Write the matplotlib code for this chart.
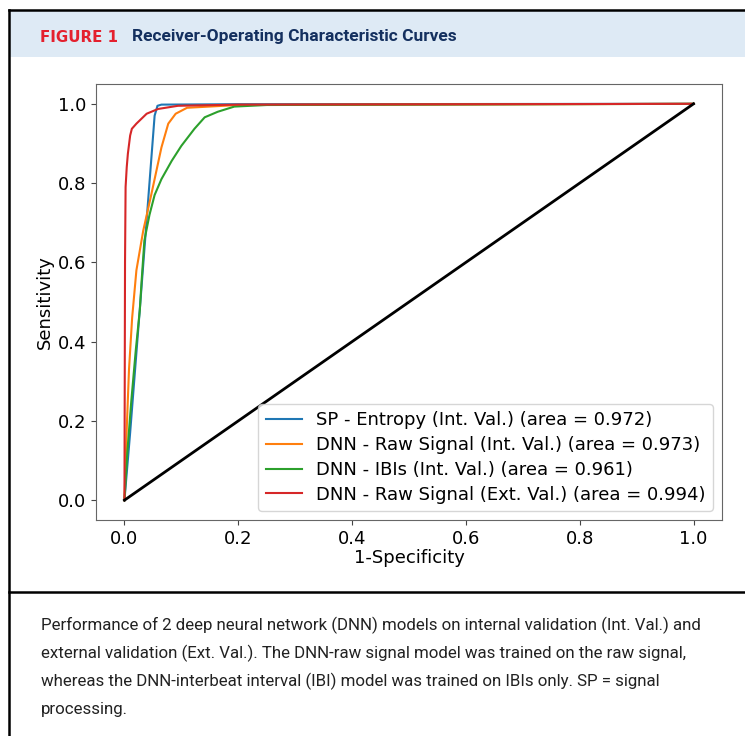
#!/usr/bin/env python3
"""ROC curves figure (journal panel style): header band, ROC plot, caption."""

import matplotlib
matplotlib.use('Agg')
import matplotlib.pyplot as plt
from matplotlib.patches import Rectangle
from matplotlib.lines import Line2D

# --- data ---
sp_fpr = [0.0, 0.010, 0.028, 0.045, 0.053, 0.058, 0.065, 0.2, 1.0]
sp_tpr = [0.0, 0.17, 0.50, 0.82, 0.97, 0.995, 0.998, 0.999, 1.0]

raw_int_fpr = [0.0, 0.004, 0.008, 0.0135, 0.021, 0.033, 0.047, 0.065, 0.077,
               0.090, 0.110, 0.20, 1.0]
raw_int_tpr = [0.0, 0.18, 0.33, 0.46, 0.58, 0.68, 0.77, 0.89, 0.95,
               0.975, 0.990, 0.997, 1.0]

ibi_fpr = [0.0, 0.005, 0.012, 0.020, 0.027, 0.030, 0.035, 0.044, 0.053, 0.065,
           0.083, 0.100, 0.123, 0.141, 0.164, 0.193, 0.25, 1.0]
ibi_tpr = [0.0, 0.12, 0.25, 0.38, 0.48, 0.55, 0.655, 0.72, 0.77, 0.81,
           0.856, 0.894, 0.937, 0.966, 0.980, 0.993, 0.997, 1.0]

raw_ext_fpr = [0.0, 0.0005, 0.001, 0.002, 0.004, 0.006, 0.010, 0.013, 0.021,
               0.039, 0.059, 0.094, 0.20, 1.0]
raw_ext_tpr = [0.0, 0.30, 0.60, 0.79, 0.84, 0.874, 0.92, 0.937, 0.950,
               0.975, 0.987, 0.995, 0.998, 1.0]

labels = [
    'SP - Entropy (Int. Val.) (area = 0.972)',
    'DNN - Raw Signal (Int. Val.) (area = 0.973)',
    'DNN - IBIs (Int. Val.) (area = 0.961)',
    'DNN - Raw Signal (Ext. Val.) (area = 0.994)',
]

caption_lines = [
    "Performance of 2 deep neural network (DNN) models on internal validation (Int. Val.) and",
    "external validation (Ext. Val.). The DNN-raw signal model was trained on the raw signal,",
    "whereas the DNN-interbeat interval (IBI) model was trained on IBIs only. SP = signal",
    "processing.",
]

W, H = 745, 736
fig = plt.figure(figsize=(W / 100, H / 100), dpi=100)


def fy(py):
    return 1 - py / H


def fx(px):
    return px / W


narrow = ['Roboto', 'DejaVu Sans']

# --- header band + frame lines ---
fig.patches.append(Rectangle((fx(9), fy(57)), 1, fy(10) - fy(57),
                             transform=fig.transFigure, facecolor='#deeaf5',
                             edgecolor='none', zorder=0))
fig.add_artist(Line2D([fx(9), 1], [fy(10), fy(10)], color='black', lw=1.8))
fig.add_artist(Line2D([fx(9), fx(9)], [fy(10), 0], color='black', lw=1.8))
fig.add_artist(Line2D([fx(9), 1], [fy(592), fy(592)], color='black', lw=1.8))

fig.text(fx(40), fy(41.5), 'FIGURE 1', color='#e4202e', fontsize=10.8,
         fontweight='bold', family='DejaVu Sans', va='baseline', ha='left')
fig.text(fx(132), fy(41.5), 'Receiver-Operating Characteristic Curves',
         color='#14305f', fontsize=12.5, fontweight='bold', family=narrow,
         va='baseline', ha='left')

# --- ROC axes ---
ax = fig.add_axes([fx(96), fy(520), fx(722) - fx(96), fy(84) - fy(520)])
ax.plot(sp_fpr, sp_tpr, color='tab:blue', lw=1.5, label=labels[0])
ax.plot(raw_int_fpr, raw_int_tpr, color='tab:orange', lw=1.5, label=labels[1])
ax.plot(ibi_fpr, ibi_tpr, color='tab:green', lw=1.5, label=labels[2])
ax.plot(raw_ext_fpr, raw_ext_tpr, color='tab:red', lw=1.5, label=labels[3])
ax.plot([0, 1], [0, 1], color='black', lw=2)

ax.set_xlim(-0.05, 1.05)
ax.set_ylim(-0.05, 1.05)
ax.set_xticks([0, 0.2, 0.4, 0.6, 0.8, 1.0])
ax.set_yticks([0, 0.2, 0.4, 0.6, 0.8, 1.0])
ax.tick_params(labelsize=13, color='#444444')
for s in ax.spines.values():
    s.set_color('#666666')
ax.set_xlabel('1-Specificity', fontsize=13, labelpad=1)
ax.set_ylabel('Sensitivity', fontsize=13, labelpad=3)
ax.legend(loc='lower right', fontsize=13, handlelength=2.0, labelspacing=0.38)

# --- caption ---
for i, line in enumerate(caption_lines):
    fig.text(fx(41), fy(630 + 28 * i), line, fontsize=12.15, family=narrow,
             color='#222222', va='baseline', ha='left')

fig.savefig('out.png', dpi=100)
